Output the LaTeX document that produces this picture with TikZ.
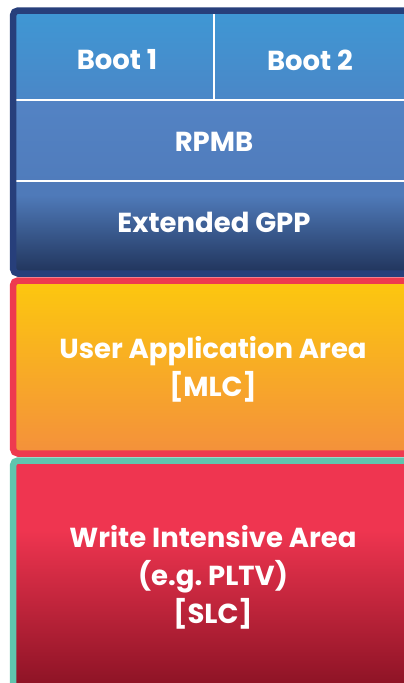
\documentclass[tikz,border=0pt]{standalone}
\usepackage{fontspec}
\setmainfont{Poppins}
\definecolor{navyedge}{HTML}{273F7B}
\definecolor{bootA}{HTML}{3F97D4}
\definecolor{bootB}{HTML}{4A87C7}
\definecolor{rpmbA}{HTML}{5383C4}
\definecolor{rpmbB}{HTML}{507CBC}
\definecolor{gppA}{HTML}{4F7AB9}
\definecolor{gppB}{HTML}{22365E}
\definecolor{rededge}{HTML}{EE3A4F}
\definecolor{userA}{HTML}{FCC70F}
\definecolor{userB}{HTML}{F4913B}
\definecolor{tealedge}{HTML}{5FC5AE}
\definecolor{wiaA}{HTML}{EF3550}
\definecolor{wiaB}{HTML}{8A1224}

\begin{document}
\begin{tikzpicture}[x=1pt,y=-1pt,
  lbl/.style={text=white,align=center,font=\fontsize{27.5}{38}\selectfont\bfseries},
  sep/.style={white,line width=2pt}]
  \useasboundingbox (0,0) rectangle (404,683);
  \clip (0,0) rectangle (404,683);
  % bloque superior: boot, rpmb, gpp
  \shade[top color=bootA,bottom color=bootB] (16,13) rectangle (430,99.5);
  \shade[top color=rpmbA,bottom color=rpmbB] (16,99.5) rectangle (430,181);
  \fill[gppA] (16,181) rectangle (430,195);
  \shade[top color=gppA,bottom color=gppB] (16,195) rectangle (430,271);
  \draw[sep] (16,99.5) -- (430,99.5);
  \draw[sep] (16,181) -- (430,181);
  \draw[sep] (213.5,13) -- (213.5,99.5);
  \draw[navyedge,line width=6.5pt,rounded corners=5pt] (13,10.5) rectangle (440,273.5);
  % zona de usuario
  \shade[top color=userA,bottom color=userB] (16,283) rectangle (430,451);
  \draw[rededge,line width=6.5pt,rounded corners=5pt] (13,280.5) rectangle (440,453.5);
  % zona de escritura intensiva
  \fill[wiaA] (16,463) rectangle (430,530);
  \shade[top color=wiaA,bottom color=wiaB] (16,530) rectangle (430,690);
  \draw[tealedge,line width=6.5pt,rounded corners=5pt] (13,460.5) rectangle (440,720);
  \node[lbl] (boot1) at (117,60) {Boot 1};
  \node[lbl] (boot2) at (310,60) {Boot 2};
  \node[lbl] (rpmb) at (214,142) {RPMB};
  \node[lbl] (gpp) at (214,222) {Extended GPP};
  \node[lbl] (user) at (213,369) {User Application Area\\{}[MLC]};
  \node[lbl] (wia) at (213,577) {Write Intensive Area\\(e.g.\ PLTV)\\{}[SLC]};
\end{tikzpicture}
\end{document}
